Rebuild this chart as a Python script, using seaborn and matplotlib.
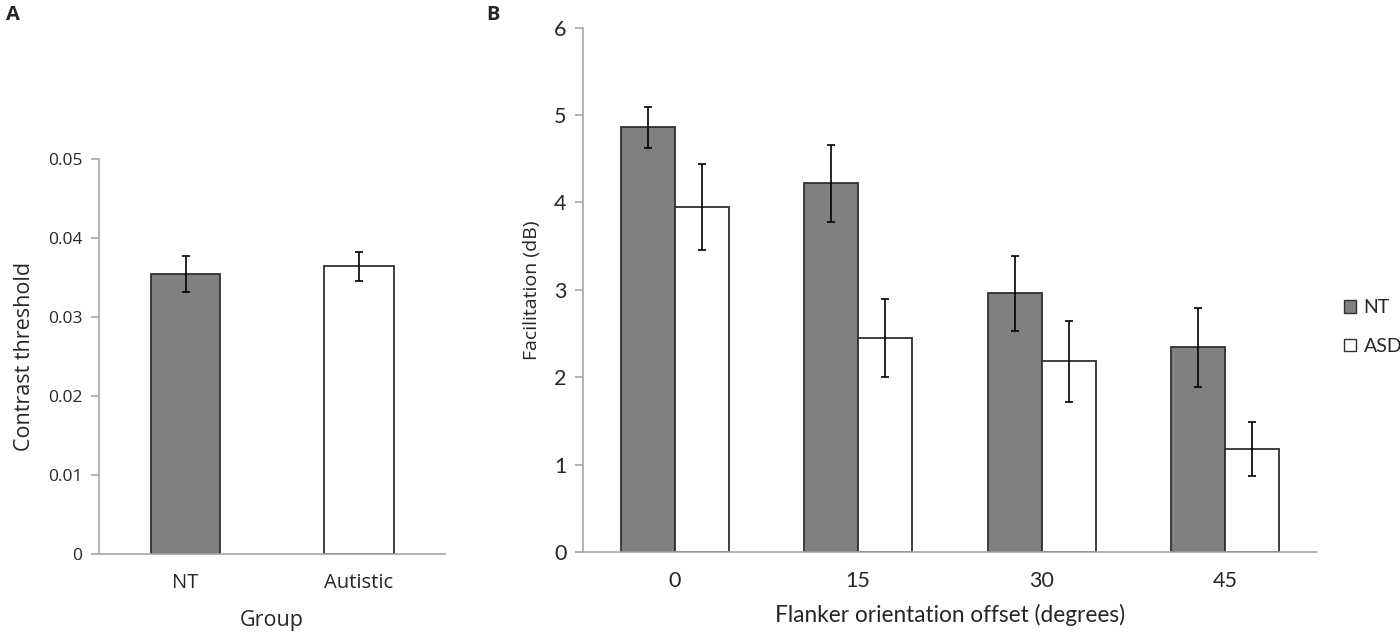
import numpy as np
import pandas as pd
import matplotlib
matplotlib.use("Agg")
import matplotlib.pyplot as plt
import seaborn as sns

# panel A data
groups = ["NT", "Autistic"]
threshold = [0.0354, 0.0364]
threshold_err = [0.0023, 0.0018]

# panel B data
offsets = ["0", "15", "30", "45"]
series = ["NT", "ASD"]
facil_nt = [4.86, 4.22, 2.96, 2.34]
facil_asd = [3.95, 2.45, 2.18, 1.18]
err_nt = [0.235, 0.44, 0.43, 0.45]
err_asd = [0.49, 0.45, 0.46, 0.31]

GRAY = "#808080"
AXC = "#a6a6a6"
LATO = ["Lato", "DejaVu Sans"]

sns.set_style("white")
plt.rcParams["font.family"] = ["Open Sans", "DejaVu Sans"]

fig = plt.figure(figsize=(14, 6.32), dpi=100)
axA = fig.add_axes([0.0707, 0.1235, 0.2475, 0.625])
axB = fig.add_axes([0.4164, 0.1266, 0.5243, 0.8297])


def style_axis(ax, ncat, xfs, yfs):
    for s in ["top", "right"]:
        ax.spines[s].set_visible(False)
    for s in ["left", "bottom"]:
        ax.spines[s].set_color(AXC)
        ax.spines[s].set_linewidth(1.2)
    ax.set_xlim(-0.5, ncat - 0.5)
    ax.set_xticks(np.arange(-0.5, ncat), minor=True)
    ax.tick_params(axis="x", which="major", length=0, pad=14, labelsize=xfs)
    ax.tick_params(axis="x", which="minor", length=6, width=1.2, color=AXC, direction="out")
    ax.tick_params(axis="y", length=6, width=1.2, color=AXC, direction="out",
                   left=True, labelsize=yfs, pad=6)


def add_errors(ax, vals, errs):
    bars = [p for p in ax.patches if p.get_height() > 0]
    bars = sorted(bars, key=lambda p: p.get_x())
    for p in bars:
        h = p.get_height()
        idx = int(np.argmin([abs(h - v) for v in vals]))
        ax.errorbar(p.get_x() + p.get_width() / 2, h, yerr=errs[idx], fmt="none",
                    ecolor="black", elinewidth=1.2, capsize=3, capthick=1.2, zorder=5)


# ---- panel A ----
dfA = pd.DataFrame({"group": groups, "value": threshold})
sns.barplot(data=dfA, x="group", y="value", hue="group", palette=[GRAY, "white"],
            width=0.4, edgecolor="#303030", linewidth=1.3, legend=False, ax=axA)
add_errors(axA, threshold, threshold_err)
axA.set_ylim(0, 0.05)
axA.set_yticks([0, 0.01, 0.02, 0.03, 0.04, 0.05])
axA.set_yticklabels(["0", "0.01", "0.02", "0.03", "0.04", "0.05"])
style_axis(axA, 2, 14.5, 12.5)
axA.set_xlabel("Group", fontsize=15.5, labelpad=12)
axA.set_ylabel("Contrast threshold", fontsize=15.5, labelpad=9)

# ---- panel B ----
dfB = pd.DataFrame({
    "offset": offsets * 2,
    "group": [series[0]] * 4 + [series[1]] * 4,
    "value": facil_nt + facil_asd,
})
sns.barplot(data=dfB, x="offset", y="value", hue="group", palette=[GRAY, "white"],
            width=0.59, gap=0, edgecolor="#303030", linewidth=1.3, ax=axB)
add_errors(axB, facil_nt + facil_asd, err_nt + err_asd)
axB.set_ylim(0, 6)
axB.set_yticks(range(7))
style_axis(axB, 4, 15.5, 15.5)
for t in axB.get_xticklabels() + axB.get_yticklabels():
    t.set_fontfamily(LATO)
axB.set_xlabel("Flanker orientation offset (degrees)", fontsize=16.3, labelpad=9,
               fontfamily=LATO)
axB.set_ylabel("Facilitation (dB)", fontsize=14, labelpad=9)

leg = axB.legend(title=None, frameon=False, loc="center left",
                 bbox_to_anchor=(1.037, 0.429), borderpad=0, borderaxespad=0,
                 handlelength=0.6, handleheight=0.6, handletextpad=0.4,
                 labelspacing=1.1, prop={"family": "Lato", "size": 14})
for h in leg.legend_handles:
    h.set_edgecolor("#303030")
    h.set_linewidth(1)

fig.text(0.004, 0.977, "A", fontsize=14.5, fontweight="bold", va="center")
fig.text(0.347, 0.977, "B", fontsize=14.5, fontweight="bold", va="center")

fig.savefig("out.png", dpi=100)
